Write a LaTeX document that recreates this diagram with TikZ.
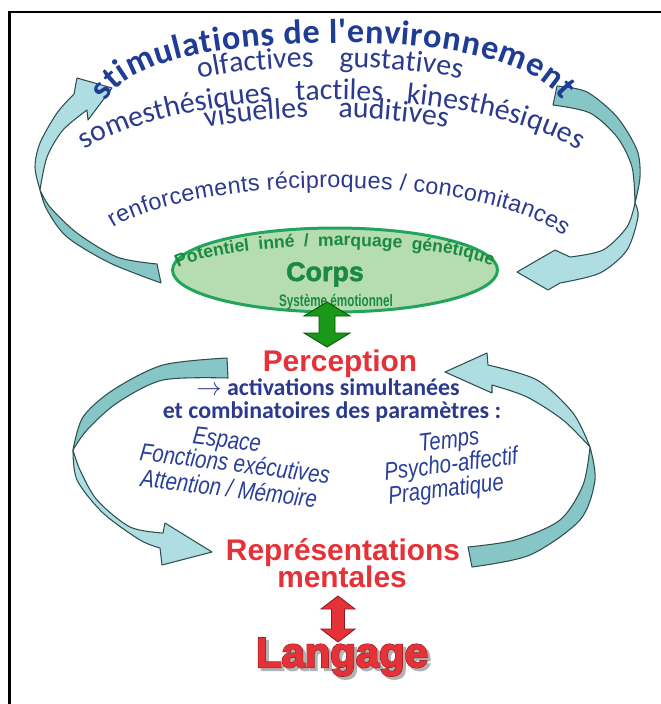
\documentclass[tikz,border=0pt]{standalone}
\usepackage{fontspec}
\usetikzlibrary{shapes.geometric,decorations.text}
\newfontfamily\calfont{Carlito}
\newfontfamily\arialfont{Liberation Sans}
\newfontfamily\narrowfont[FakeStretch=0.82]{Liberation Sans}
\newfontfamily\tightfont[FakeStretch=0.7]{Liberation Sans}
\newfontfamily\heavyfont[FakeBold=2]{Liberation Sans Bold}
\newfontfamily\langfont[FakeBold=2.5]{Liberation Sans Bold}
\newfontfamily\langedge[FakeBold=5]{Liberation Sans Bold}
\definecolor{stimblue}{HTML}{1F3C96}
\definecolor{txtblue}{HTML}{2B3A8E}
\definecolor{itblue}{HTML}{2A3F99}
\definecolor{redtxt}{HTML}{E53238}
\definecolor{darkred}{HTML}{8E1B1F}
\definecolor{greentxt}{HTML}{1B8A3F}
\definecolor{ellfill}{HTML}{B6DCB2}
\definecolor{elldraw}{HTML}{22A55A}
\definecolor{arrlight}{HTML}{AEDDE2}
\definecolor{arrdark}{HTML}{86C6C6}
\definecolor{arredge}{HTML}{2F4F4F}
\begin{document}
\begin{tikzpicture}
      [x=0.02cm, y=-0.02cm,
      arrtail/.style={fill=arrdark, draw=arredge, line width=0.6pt, line join=round},
      arrhead/.style={fill=arrlight, draw=arredge, line width=0.6pt, line join=round},
      redlbl/.style={font=\arialfont\bfseries\fontsize{17}{20}\selectfont, text=redtxt, anchor=base, inner sep=0pt},
      paramlbl/.style={font=\calfont\bfseries\fontsize{13.6}{16}\selectfont, text=txtblue, anchor=base, inner sep=0pt},
      itlbl/.style={font=\narrowfont\itshape\fontsize{14.2}{17}\selectfont, text=itblue, anchor=base, inner sep=0pt},
      langlbl/.style={anchor=base, inner sep=0pt}]
      \useasboundingbox (0,0) rectangle (661,704);
      \fill[white] (0,0) rectangle (661,704);
      \draw[line width=1.4pt] (661,12) -- (9.5,12) -- (9.5,704);
      % curved arrows
      \filldraw[arrtail] plot[smooth] coordinates {(161,283) (110,263) (67,237) (47,210) (40,190)}
        -- plot[smooth] coordinates {(40,190) (50,207) (77,233) (117,257) (157,264)} -- cycle;
      \filldraw[arrhead] plot[smooth] coordinates {(40,190) (35,167) (40,143) (57,113) (74,94)}
        -- (77,78) -- (112,88) -- (88,120) -- plot[smooth] coordinates {(87,110) (63,130) (47,157) (40,190)} -- cycle;
      \filldraw[arrtail] plot[smooth] coordinates {(557,86) (587,92) (617,117) (637,150) (640,177) (635,203)}
        -- plot[smooth] coordinates {(635,203) (632,167) (617,137) (590,113) (553,105)} -- cycle;
      \filldraw[arrhead] plot[smooth] coordinates {(635,203) (638,217) (627,250) (600,273) (560,283)}
        -- (548,290) -- (517,272) -- (555,250) -- plot[smooth] coordinates {(570,257) (603,250) (627,227) (635,203)} -- cycle;
      \filldraw[arrtail] plot[smooth] coordinates {(227,358) (163,365) (113,390) (83,417) (73,450)}
        -- plot[smooth] coordinates {(73,450) (87,430) (117,403) (163,380) (228,378)} -- cycle;
      \filldraw[arrhead] plot[smooth] coordinates {(73,450) (77,480) (103,513) (140,540) (160,548)}
        -- (162,565) -- (212,552) -- (165,523) -- plot[smooth] coordinates {(163,533) (130,527) (97,500) (80,470) (73,450)} -- cycle;
      \filldraw[arrhead] plot[smooth] coordinates {(590,447) (573,413) (537,380) (488,365)}
        -- (487,353) -- (445,372) -- (492,393) -- plot[smooth] coordinates {(492,385) (527,397) (563,420) (590,447)} -- cycle;
      \filldraw[arrtail] plot[smooth] coordinates {(590,447) (595,480) (580,520) (530,555) (472,567)}
        -- plot[smooth] coordinates {(468,547) (515,540) (560,520) (583,485) (590,447)} -- cycle;
      % texts along arcs
      \path[decorate, decoration={text along path, text align={fit to path},
        text={|\calfont\bfseries\fontsize{19.5}{22}\selectfont\color{stimblue}|stimulations de l'environnement}}]
        (106,102) .. controls (125,65) and (200,45) .. (330,43) .. controls (460,41) and (535,65) .. (562,100);
      \path[decorate, decoration={text along path, text align={fit to path stretching spaces},
        text={|\calfont\fontsize{17}{20}\selectfont\color{txtblue}|olfactives gustatives}}]
        (199,79) .. controls (260,63) and (400,63) .. (461,79);
      \path[decorate, decoration={text along path, text align={fit to path stretching spaces},
        text={|\calfont\fontsize{17}{20}\selectfont\color{txtblue}|somesthésiques tactiles kinesthésiques}}]
        (85,150) .. controls (190,83) and (470,83) .. (578,150);
      \path[decorate, decoration={text along path, text align={fit to path stretching spaces},
        text={|\calfont\fontsize{17}{20}\selectfont\color{txtblue}|visuelles auditives}}]
        (206,128) .. controls (270,114) and (380,114) .. (447,128);
      \path[decorate, decoration={text along path, text align={fit to path},
        text={|\arialfont\fontsize{13.3}{16}\selectfont\color{txtblue}|renforcements réciproques / concomitances}}]
        (113,228) .. controls (195,176) and (470,170) .. (564,236);
      % corps
      \node[ellipse, draw=elldraw, line width=1.7pt, fill=ellfill, minimum width=6.5cm,
        minimum height=1.68cm, inner sep=0pt] (ell) at (335,270) {};
      \path[decorate, decoration={text along path, text align={fit to path stretching spaces},
        text={|\arialfont\bfseries\fontsize{10}{12}\selectfont\color{greentxt}|Potentiel inné / marquage génétique}}]
        (178,268) .. controls (228,240) and (432,238) .. (492,266);
      \node[langlbl, font=\heavyfont\fontsize{15.3}{18}\selectfont, text=greentxt] (corps) at (325,281) {Corps};
      \node[langlbl, font=\tightfont\bfseries\fontsize{9.5}{11}\selectfont, text=greentxt] (sys) at (336,306) {Système émotionnel};
      \coordinate (g1) at (327,302);
      \filldraw[fill=green!55!black!90, draw=green!35!black, line width=0.5pt]
        (g1) -- ++(23,14) -- ++(-15,0) -- ++(0,17) -- ++(15,0) -- ++(-23,14)
        -- ++(-23,-14) -- ++(15,0) -- ++(0,-17) -- ++(-15,0) -- cycle;
      % perception
      \node[redlbl] (percep) at (340,371) {Perception};
      \node[paramlbl] (act) at (328,395) {$\rightarrow$ activations simultanées};
      \node[paramlbl] (comb) at (332,418) {et combinatoires des paramètres :};
      \node[itlbl, rotate=-7] (esp) at (226,448) {Espace};
      \node[itlbl, rotate=-7] (fonc) at (234,472) {Fonctions exécutives};
      \node[itlbl, rotate=-7] (att) at (228,497) {Attention / Mémoire};
      \node[itlbl, rotate=7] (temps) at (450,448) {Temps};
      \node[itlbl, rotate=7] (psy) at (452,472) {Psycho-affectif};
      \node[itlbl, rotate=7] (prag) at (447,497) {Pragmatique};
      \node[redlbl] (rep) at (343,560) {Représentations};
      \node[redlbl] (ment) at (342,587) {mentales};
      \coordinate (r1) at (338,596);
      \filldraw[fill=redtxt, draw=darkred, line width=0.5pt]
        (r1) -- ++(17,13) -- ++(-10.5,0) -- ++(0,20) -- ++(10.5,0) -- ++(-17,13)
        -- ++(-17,-13) -- ++(10.5,0) -- ++(0,-20) -- ++(-10.5,0) -- cycle;
      % langage
      \node[langlbl, font=\langedge\fontsize{23.8}{28}\selectfont, text=black!30] at (345,670) {Langage};
      \node[langlbl, font=\langedge\fontsize{23.8}{28}\selectfont, text=darkred] (lang) at (342,667) {Langage};
      \node[langlbl, font=\langfont\fontsize{23.8}{28}\selectfont, text=redtxt] at (lang.base) {Langage};
  \end{tikzpicture}
\end{document}
